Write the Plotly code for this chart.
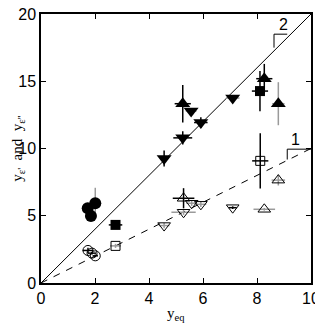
import plotly.graph_objects as go

# ---- data ----
fc_x = [1.73, 1.85, 2.01]; fc_y = [5.55, 4.98, 5.93]
fc_ex = [0.0, 0.0, 0.0]; fc_ey = [0.0, 0.0, 1.15]; fc_col = ["k", "k", "g"]

fs_x = [2.76, 8.11]; fs_y = [4.32, 14.27]
fs_ex = [0.25, 0.3]; fs_ey = [0.1, 1.5]; fs_col = ["k", "k"]

fd_x = [4.56, 5.25, 5.56, 5.92, 7.10]; fd_y = [9.26, 10.79, 12.79, 11.93, 13.75]
fd_ex = [0.12, 0.35, 0.2, 0.25, 0.25]; fd_ey = [0.6, 0.5, 0.2, 0.4, 0.2]
fd_col = ["k", "k", "g", "k", "g"]

fu_x = [5.25, 8.27, 8.79]; fu_y = [13.33, 15.19, 13.33]
fu_ex = [0.3, 0.3, 0.23]; fu_ey = [1.4, 1.1, 1.6]; fu_col = ["k", "k", "g"]

oc_x = [1.74, 1.89, 2.01]; oc_y = [2.42, 2.22, 2.02]
oc_ex = [0.2, 0.15, 0.1]; oc_ey = [0.2, 0.1, 0.1]; oc_col = ["k", "k", "k"]

os_x = [2.76, 8.12]; os_y = [2.76, 9.08]
os_ex = [0.2, 0.3]; os_ey = [0.15, 2.05]; os_col = ["g", "k"]

od_x = [4.56, 5.28, 5.58, 5.92, 7.10]; od_y = [4.27, 5.26, 5.93, 5.85, 5.60]
od_ex = [0.2, 0.45, 0.2, 0.2, 0.15]; od_ey = [0.2, 0.2, 0.2, 0.2, 0.1]
od_col = ["g", "g", "g", "g", "k"]

ou_x = [5.28, 8.27, 8.79]; ou_y = [6.30, 5.48, 7.65]
ou_ex = [0.4, 0.4, 0.25]; ou_ey = [0.75, 0.1, 0.4]; ou_col = ["k", "g", "g"]

line_x = [0, 10]
line2_y = [0, 20]
line1_y = [0, 10]

xticks = [0, 2, 4, 6, 8, 10]
yticks = [0, 5, 10, 15, 20]

COL = {"k": "black", "g": "#9a9a9a"}

fig = go.Figure()
fig.add_trace(go.Scatter(x=line_x, y=line2_y, mode="lines",
                         line=dict(color="black", width=1)))
fig.add_trace(go.Scatter(x=line_x, y=line1_y, mode="lines",
                         line=dict(color="black", width=1, dash="7px,7px")))


def add_series(xs, ys, exs, eys, cols, symbol, size, filled):
    for c in ["g", "k"]:
        idx = [i for i, cc in enumerate(cols) if cc == c]
        if not idx:
            continue
        fig.add_trace(go.Scatter(
            x=[xs[i] for i in idx], y=[ys[i] for i in idx], mode="markers",
            marker=dict(symbol=symbol, size=size, color="black",
                        line=dict(color="black", width=0 if filled else 1)),
            error_x=dict(type="data", array=[exs[i] for i in idx],
                         color=COL[c], thickness=1.5, width=0),
            error_y=dict(type="data", array=[eys[i] for i in idx],
                         color=COL[c], thickness=1.5, width=0),
        ))


add_series(oc_x, oc_y, oc_ex, oc_ey, oc_col, "circle-open", 10, False)
add_series(os_x, os_y, os_ex, os_ey, os_col, "square-open", 9, False)
add_series(od_x, od_y, od_ex, od_ey, od_col, "triangle-down-open", 11, False)
add_series(ou_x, ou_y, ou_ex, ou_ey, ou_col, "triangle-up-open", 11, False)
add_series(fc_x, fc_y, fc_ex, fc_ey, fc_col, "circle", 12, True)
add_series(fs_x, fs_y, fs_ex, fs_ey, fs_col, "square", 10, True)
add_series(fd_x, fd_y, fd_ex, fd_ey, fd_col, "triangle-down", 13, True)
add_series(fu_x, fu_y, fu_ex, fu_ey, fu_col, "triangle-up", 13, True)

# label brackets
fig.add_shape(type="path", path="M 8.63 17.5 L 8.63 18.5 L 9.12 18.5",
              line=dict(color="black", width=1))
fig.add_shape(type="path", path="M 9.12 9.18 L 9.12 9.95 L 10 9.95",
              line=dict(color="black", width=1))
fig.add_annotation(x=8.97, y=18.45, text="2", showarrow=False, yanchor="bottom",
                   font=dict(family="Liberation Sans", size=16, color="black"))
fig.add_annotation(x=9.42, y=9.9, text="1", showarrow=False, yanchor="bottom",
                   font=dict(family="Liberation Sans", size=16, color="black"))

# axis titles
fig.add_annotation(xref="paper", yref="paper", x=0.5, y=-0.075, yanchor="top",
                   text="y<sub>eq</sub>", showarrow=False,
                   font=dict(family="Liberation Serif", size=15, color="black"))
fig.add_annotation(xref="paper", yref="paper", x=-0.088, y=0.5, xanchor="center",
                   yanchor="middle",
                   text="y<sub>ε'</sub>  and  y<sub>ε''</sub>", showarrow=False,
                   textangle=-90,
                   font=dict(family="Liberation Serif", size=15, color="black"))

axis_common = dict(showgrid=False, zeroline=False, showline=True, linecolor="black",
                   linewidth=1.5, mirror="ticks", ticks="inside", ticklen=5,
                   tickwidth=1, tickcolor="black", automargin=False,
                   ticklabeloverflow="allow",
                   tickfont=dict(family="Liberation Sans", size=16, color="black"))
fig.update_xaxes(range=[0, 10], tickvals=xticks, **axis_common)
fig.update_yaxes(range=[0, 20], tickvals=yticks, **axis_common)

# page body has an 8px default margin, so the figure is sized to fit the window
fig.update_layout(width=315, height=319, showlegend=False,
                  margin=dict(l=33, r=12, t=6, b=44),
                  plot_bgcolor="white", paper_bgcolor="white")

fig.write_html("out.html")
